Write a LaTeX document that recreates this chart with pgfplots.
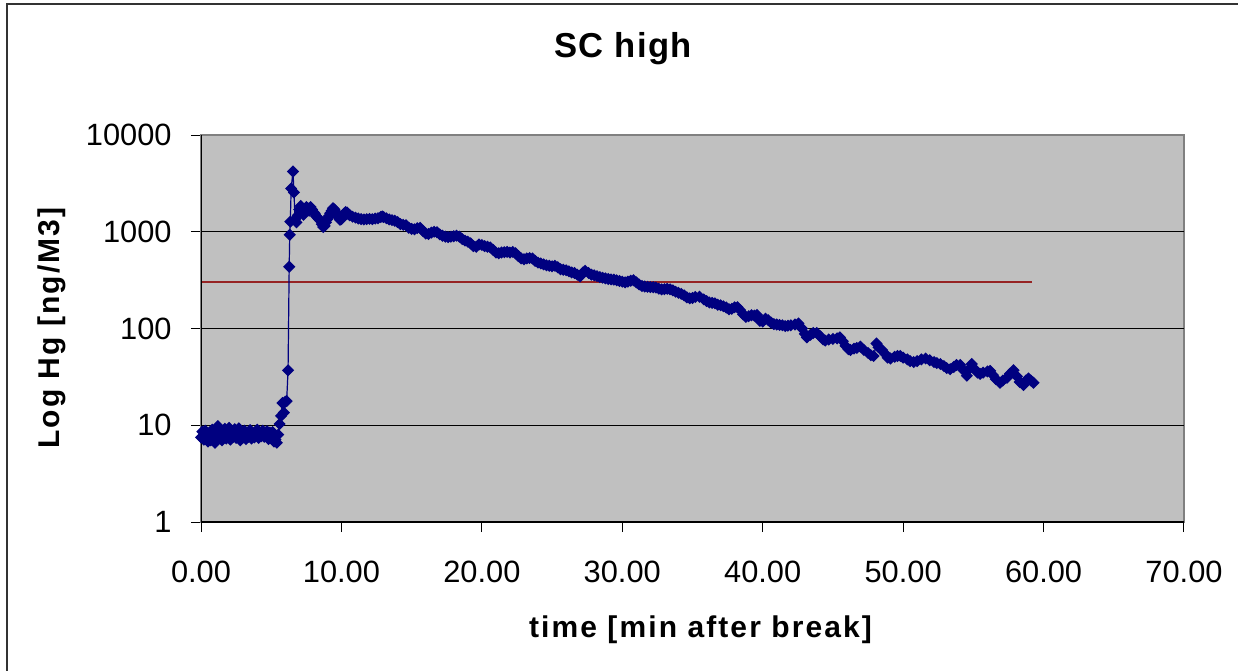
\documentclass[border=0pt]{standalone}
\usepackage{fontspec}
\setmainfont{Liberation Sans}
\usepackage{pgfplots}
\pgfplotsset{compat=1.18}
\usepackage{pgfplotstable}
\definecolor{navyc}{RGB}{0,0,128}
\definecolor{redl}{RGB}{150,35,35}
\definecolor{plotbg}{RGB}{192,192,192}
\definecolor{frameg}{RGB}{128,128,128}
\pgfplotstableread{
x y
0.00 7.5
0.10 8.6
0.20 7.1
0.30 8.8
0.40 7.8
0.50 6.8
0.60 8.3
0.70 7.0
0.80 9.0
0.90 7.6
1.00 6.6
1.10 8.1
1.20 9.8
1.30 7.4
1.40 8.6
1.50 7.0
1.60 8.3
1.70 9.2
1.80 7.3
1.90 8.0
2.00 9.4
2.10 7.1
2.20 8.7
2.30 7.6
2.40 9.1
2.50 7.4
2.60 8.2
2.70 9.3
2.80 7.0
2.90 8.4
3.00 7.5
3.10 8.8
3.20 7.2
3.30 8.0
3.40 7.6
3.50 8.9
3.60 7.3
3.70 8.1
3.80 7.5
3.90 8.6
4.00 9.0
4.10 7.4
4.20 8.3
4.30 7.7
4.40 8.8
4.50 7.6
4.60 8.2
4.70 8.7
4.80 7.2
4.90 8.4
5.00 7.9
5.10 8.5
5.20 6.8
5.30 7.1
5.40 6.6
5.50 8.0
5.60 10.3
5.70 12.5
5.80 17.0
5.90 13.5
6.00 17.5
6.10 17.8
6.20 37
6.28 435
6.32 930
6.36 1270
6.42 2800
6.55 4200
6.62 2550
6.70 1350
6.80 1250
6.90 1480
7.00 1700
7.10 1850
7.20 1600
7.30 1500
7.40 1650
7.50 1800
7.60 1750
7.70 1650
7.80 1800
7.90 1700
8.00 1600
8.10 1550
8.20 1450
8.30 1400
8.40 1350
8.50 1300
8.60 1200
8.70 1120
8.80 1150
8.90 1250
9.00 1350
9.10 1450
9.20 1550
9.30 1650
9.40 1750
9.50 1700
9.60 1600
9.70 1500
9.80 1400
9.90 1330
10.00 1350
10.10 1450
10.20 1550
10.30 1600
10.40 1580
10.50 1520
10.60 1480
10.80 1430
11.00 1400
11.20 1370
11.40 1350
11.60 1340
11.80 1350
12.00 1360
12.20 1350
12.40 1370
12.60 1380
12.80 1420
12.90 1440
13.00 1420
13.20 1380
13.40 1340
13.60 1320
13.80 1300
14.00 1260
14.20 1200
14.40 1180
14.60 1170
14.80 1100
15.00 1070
15.20 1060
15.40 1090
15.60 1100
15.80 1020
16.00 960
16.20 950
16.40 980
16.60 1000
16.80 990
17.00 940
17.20 910
17.40 890
17.60 880
17.80 890
18.00 900
18.20 910
18.40 890
18.60 840
18.80 810
19.00 790
19.20 760
19.40 710
19.60 700
19.80 740
20.00 730
20.20 710
20.40 700
20.60 690
20.80 650
21.00 610
21.20 600
21.40 610
21.60 615
21.80 620
22.00 610
22.20 620
22.40 600
22.60 560
22.80 530
23.00 520
23.20 530
23.40 535
23.60 530
23.80 500
24.00 480
24.20 470
24.40 460
24.60 450
24.80 445
25.00 440
25.20 445
25.40 430
25.60 410
25.80 405
26.00 400
26.20 390
26.40 380
26.60 375
26.80 360
27.00 345
27.20 380
27.35 395
27.60 375
27.80 360
28.00 355
28.20 348
28.40 340
28.60 335
28.80 330
29.00 325
29.20 322
29.40 320
29.60 315
29.80 310
30.00 305
30.20 300
30.40 305
30.60 312
30.80 315
31.00 300
31.20 285
31.40 275
31.60 272
31.80 270
32.00 268
32.20 267
32.40 265
32.60 258
32.80 254
33.00 255
33.20 257
33.40 254
33.60 248
33.80 240
34.00 234
34.20 228
34.40 220
34.60 210
34.80 205
35.00 207
35.20 212
35.50 213
35.80 200
36.00 192
36.20 186
36.40 184
36.60 182
36.80 176
37.00 174
37.20 170
37.40 165
37.60 158
37.80 160
38.00 166
38.20 166
38.40 155
38.60 140
38.80 132
39.00 134
39.20 137
39.40 136
39.60 138
39.80 120
40.00 118
40.20 126
40.40 122
40.60 115
40.80 111
41.00 110
41.20 109
41.40 108
41.60 106
41.80 107
42.00 108
42.30 110
42.55 113
42.80 100
43.00 88
43.15 81
43.40 86
43.60 90
43.85 90
44.10 83
44.30 77
44.45 75
44.70 77
45.00 78
45.30 79
45.50 81
45.70 74
45.90 66
46.10 61
46.25 60
46.50 62
46.70 63
46.95 65
47.20 60
47.50 56
47.70 53
47.90 52
48.10 70
48.25 64
48.50 60
48.70 55
48.90 50
49.10 49
49.40 51
49.60 52
49.80 52
50.00 50
50.30 48
50.50 46
50.75 45
51.00 46
51.30 48
51.60 49
51.90 47
52.20 45
52.40 44
52.65 43
52.90 41
53.10 39
53.35 38
53.60 40
53.80 42
54.06 42
54.30 37
54.54 32.5
54.70 38
54.89 43
55.10 38
55.30 35
55.48 34
55.70 35
56.00 36
56.20 36.5
56.40 33
56.60 30
56.90 27.5
57.10 29
57.40 31
57.60 34
57.86 37
58.10 32
58.30 28
58.57 26
58.75 29
58.93 30.5
59.10 29
59.28 27.5
}\hgdata
\begin{document}
\begin{tikzpicture}
\useasboundingbox (0pt,0pt) rectangle (619pt,-335pt);
\draw[black!80, line width=1pt] (3.5pt,-340pt) -- (3.5pt,-2pt) -- (625pt,-2pt);
\begin{axis}[
  at={(100.5pt,-261pt)}, anchor=south west,
  scale only axis, width=491.5pt, height=193.5pt,
  xmin=0, xmax=70, ymin=1, ymax=10000, ymode=log,
  xtick={0,10,20,30,40,50,60,70},
  xticklabels={0.00,10.00,20.00,30.00,40.00,50.00,60.00,70.00},
  ytick={1,10,100,1000,10000},
  yticklabels={1,10,100,1000,10000},
  yminorticks=false, xminorticks=false,
  tick align=outside, major tick length=5pt,
  xtick pos=bottom, ytick pos=left,
  tick style={black, line width=0.5pt},
  axis line style={draw=frameg, line width=1pt},
  axis background/.style={fill=plotbg},
  xticklabel style={font=\fontsize{15.4}{18}\selectfont, anchor=base, yshift=-25pt},
  yticklabel style={font=\fontsize{15.4}{18}\selectfont, anchor=east, inner sep=0pt, xshift=-9.5pt},
]
\draw[black, line width=0.6pt] (axis cs:0,10) -- (axis cs:70,10);
\draw[black, line width=0.6pt] (axis cs:0,100) -- (axis cs:70,100);
\draw[black, line width=0.6pt] (axis cs:0,1000) -- (axis cs:70,1000);
\addplot[redl, line width=0.9pt, no marks] coordinates {(0,300) (59.2,300)};
\addplot[navyc, line width=0.6pt, mark=square*, mark size=1.85pt,
  mark options={rotate=45, solid, fill=navyc}] table[x=x, y=y] {\hgdata};
\draw[black, line width=0.75pt] (rel axis cs:0,1) -- (rel axis cs:0,0) -- (rel axis cs:1,0);
\end{axis}
\node[anchor=base, font=\fontsize{17.3}{20}\selectfont\bfseries\addfontfeature{LetterSpace=4}] at (311.5pt,-28.5pt) {SC high};
\node[anchor=base, font=\fontsize{15}{18}\selectfont\bfseries\addfontfeature{LetterSpace=7}] at (350.25pt,-318.5pt) {time [min after break]};
\node[anchor=base, rotate=90, font=\fontsize{15}{18}\selectfont\bfseries\addfontfeature{LetterSpace=7}] at (30pt,-164pt) {Log Hg [ng/M3]};
\end{tikzpicture}
\end{document}
